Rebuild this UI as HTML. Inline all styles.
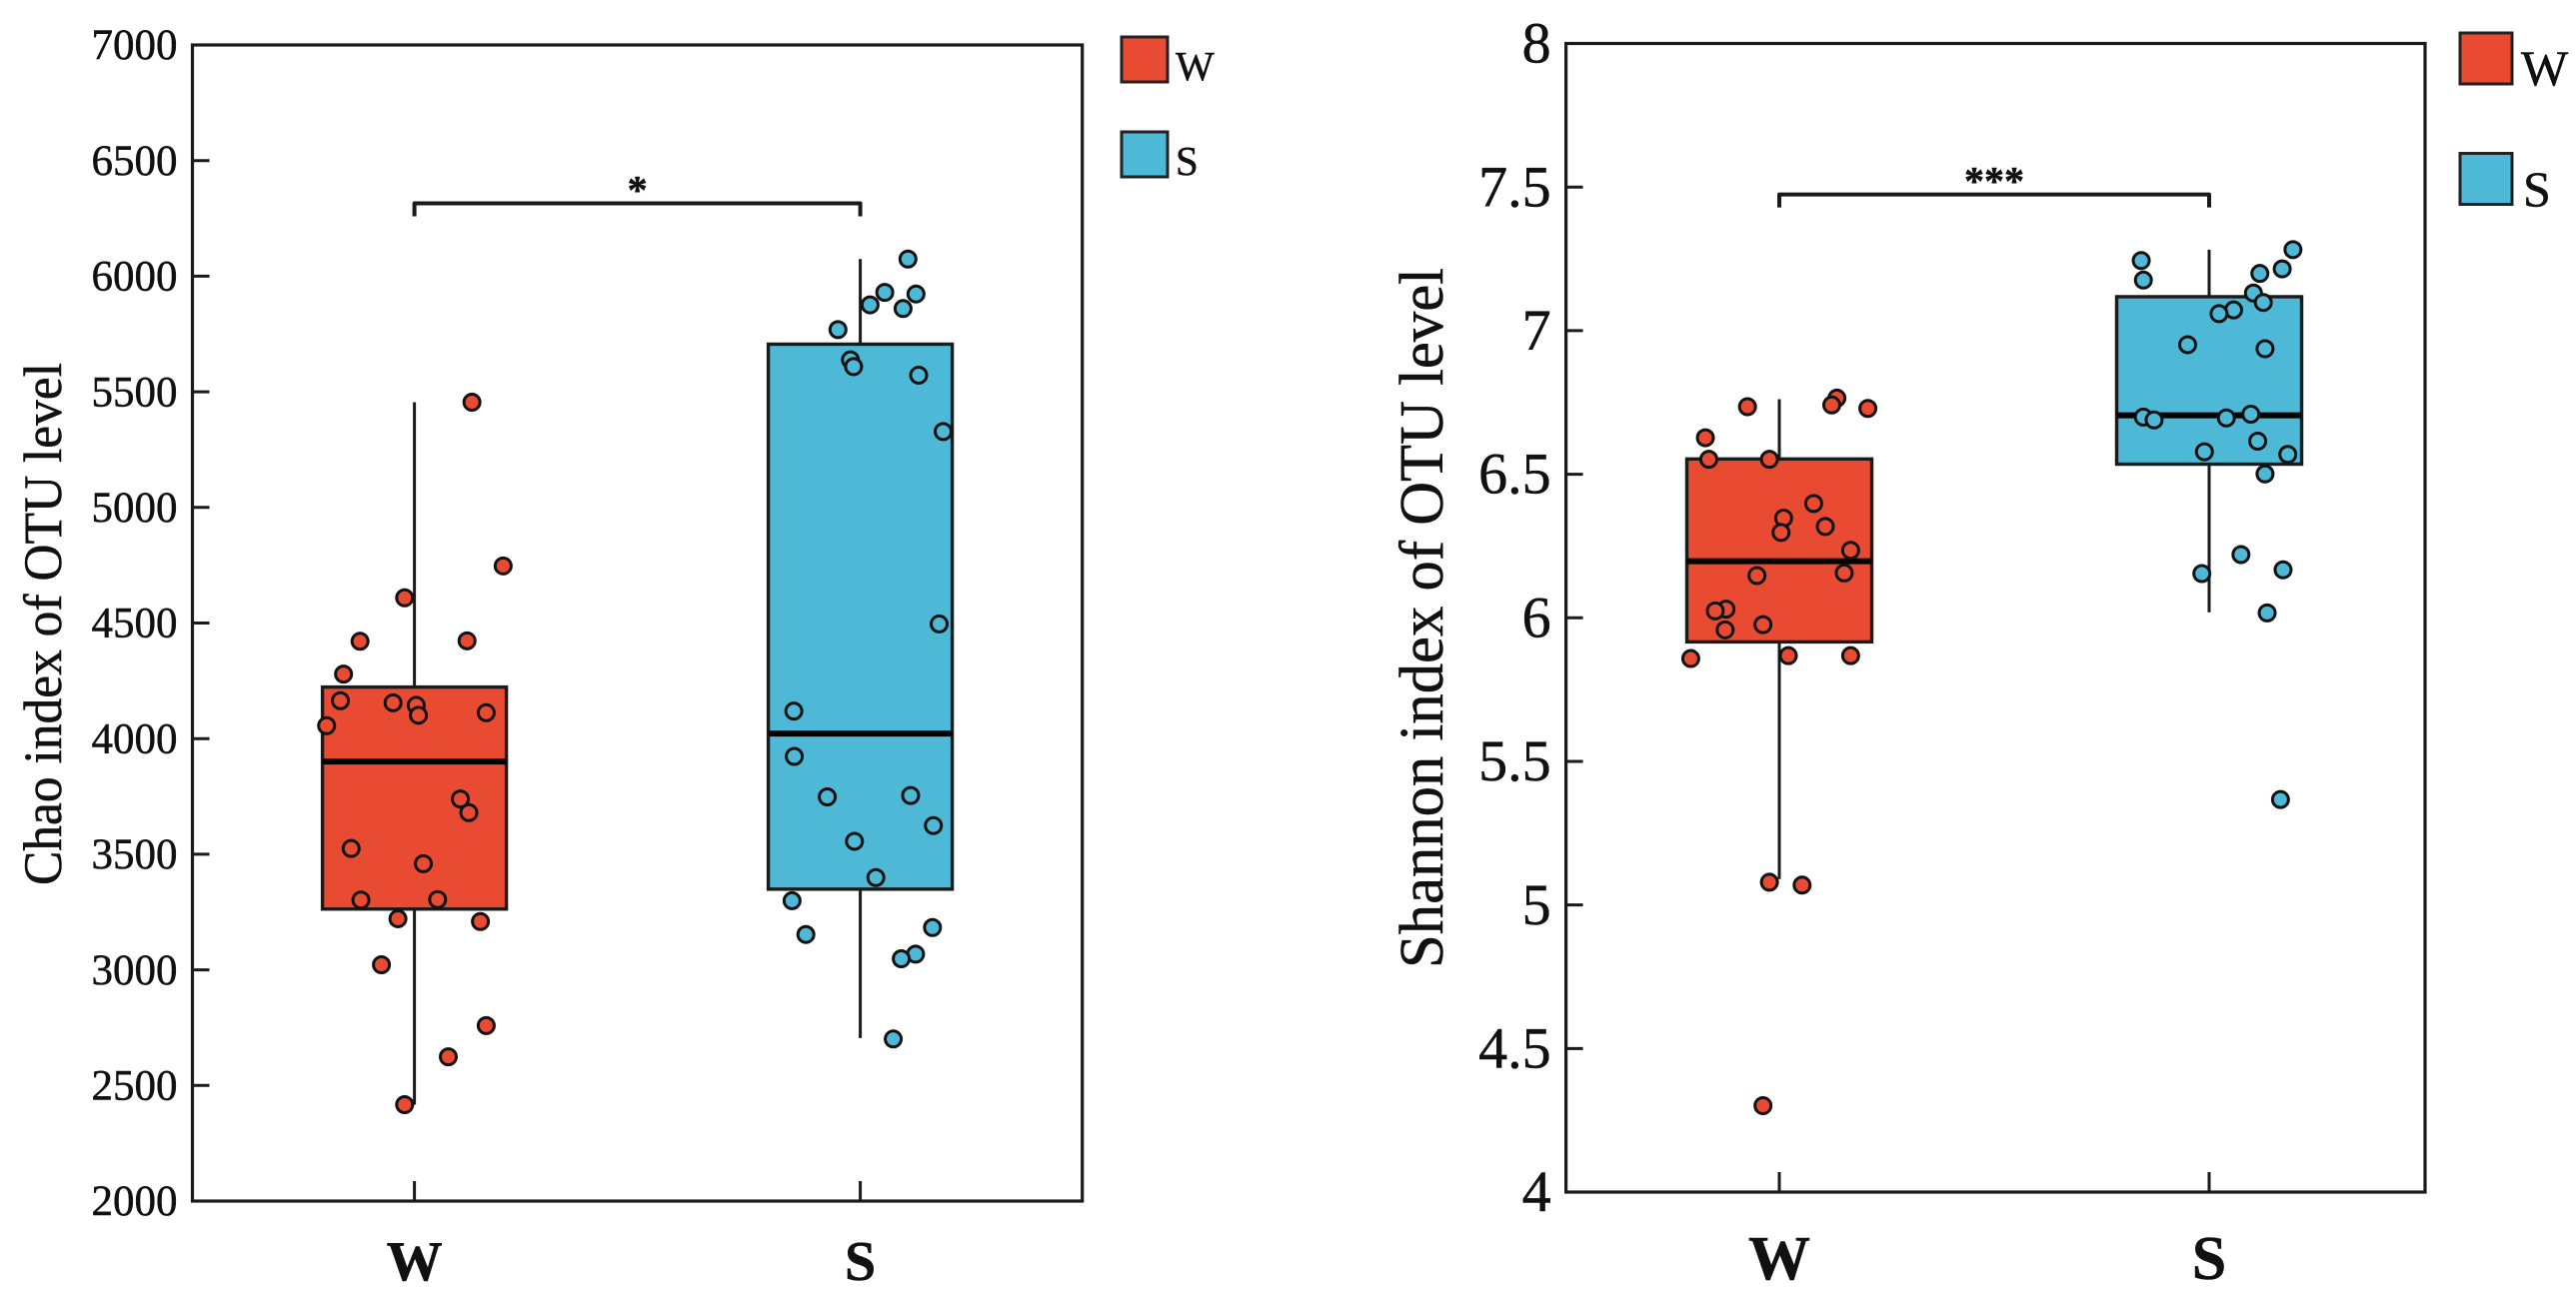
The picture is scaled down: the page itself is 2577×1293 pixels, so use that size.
<!DOCTYPE html>
<html>
<head>
<meta charset="utf-8">
<style>
html,body{margin:0;padding:0;background:#fff;}
svg{display:block;}
text{font-family:"Liberation Serif",serif;fill:#111;stroke:#111;stroke-width:0.5;}
</style>
</head>
<body>
<svg id="figure" xmlns="http://www.w3.org/2000/svg" width="2577" height="1293" viewBox="0 0 2577 1293">
  <rect x="0" y="0" width="2577" height="1293" fill="#fff"/>
  <g id="chao-chart"></g>
  <g id="shannon-chart"></g>
  <text transform="translate(61,886) rotate(-90)" font-size="54" textLength="523" lengthAdjust="spacingAndGlyphs">Chao index of OTU level</text>
  <text transform="translate(1443,969) rotate(-90)" font-size="62" textLength="701" lengthAdjust="spacingAndGlyphs">Shannon index of OTU level</text>
  <rect x="1122" y="37" width="46" height="45" fill="#E84B32" stroke="#222" stroke-width="3"/>
  <text x="1176" y="80" font-size="41">W</text>
  <rect x="1122" y="132" width="46" height="45" fill="#4DB9D6" stroke="#222" stroke-width="3"/>
  <text x="1176" y="175" font-size="41">S</text>
  <rect x="2461" y="33" width="52" height="51" fill="#E84B32" stroke="#222" stroke-width="3"/>
  <text x="2522" y="85" font-size="50">W</text>
  <rect x="2461" y="153.5" width="52" height="51" fill="#4DB9D6" stroke="#222" stroke-width="3"/>
  <text x="2524" y="206" font-size="50">S</text>
</svg>
<script>
const categories = ['W', 'S'];
const chaoTicks = [2000, 2500, 3000, 3500, 4000, 4500, 5000, 5500, 6000, 6500, 7000];
const shannonTicks = [4, 4.5, 5, 5.5, 6, 6.5, 7, 7.5, 8];

const chaoWValues = [5455, 4747, 4609, 4421, 4423, 4279, 4164, 4155, 4144, 4101, 4112, 4056, 3739, 3680, 3525, 3459, 3302, 3304, 3221, 3209, 3022, 2759, 2624, 2417];
const chaoWJitter = [.129, .199, -.022, -.122, .118, -.159, -.166, -.048, .004, .009, .161, -.197, .103, .122, -.142, .020, -.120, .052, -.037, .148, -.074, .161, .076, -.022];
const chaoSValues = [6074, 5930, 5923, 5876, 5860, 5769, 5638, 5609, 5572, 5328, 4496, 4119, 3923, 3748, 3754, 3624, 3556, 3399, 3299, 3183, 3153, 3068, 3048, 2701];
const chaoSJitter = [.107, .055, .125, .022, .096, -.050, -.022, -.015, .131, .186, .177, -.149, -.148, -.074, .113, .164, -.013, .035, -.153, .162, -.122, .124, .092, .074];
const chaoWBox = [2417, 3263, 3901, 4223, 5455];
const chaoSBox = [2705, 3349, 4022, 5706, 6074];
const chaoBracketValue = 6315;

const shannonWValues = [6.735, 6.765, 6.741, 6.729, 6.627, 6.552, 6.552, 6.398, 6.347, 6.297, 6.318, 6.235, 6.156, 6.147, 6.030, 6.024, 5.958, 5.976, 5.858, 5.868, 5.868, 5.079, 5.069, 4.301];
const shannonWJitter = [-.074, .134, .122, .206, -.172, -.164, -.023, .080, .010, .004, .107, .166, .151, -.052, -.124, -.149, -.126, -.038, -.206, .021, .166, -.023, .053, -.038];
const shannonSValues = [7.282, 7.244, 7.176, 7.215, 7.199, 7.131, 7.098, 7.072, 7.059, 6.951, 6.937, 6.699, 6.689, 6.696, 6.709, 6.615, 6.578, 6.569, 6.501, 6.220, 6.154, 6.167, 6.017, 5.367];
const shannonSJitter = [.195, -.158, -.153, .170, .118, .103, .126, .057, .023, -.050, .130, -.153, -.128, .040, .097, .113, -.011, .183, .130, .074, -.017, .172, .135, .166];
const shannonWBox = [5.09, 5.916, 6.197, 6.553, 6.761];
const shannonSBox = [6.019, 6.535, 6.705, 7.118, 7.282];
const shannonBracketValue = 7.474;

const NS = 'http://www.w3.org/2000/svg';
const INK = '#1a1a1a';
const RED = '#E84B32';
const BLUE = '#4DB9D6';

function make(tag, parent, attrs, txt) {
  const el = document.createElementNS(NS, tag);
  for (const k in attrs) el.setAttribute(k, attrs[k]);
  if (txt !== undefined) el.textContent = txt;
  parent.appendChild(el);
  return el;
}

function drawChart(root, opts, ticks, series, bracketValue, stars) {
  const yMin = ticks[0], yMax = ticks[ticks.length - 1];
  const y = v => opts.bottom - (v - yMin) / (yMax - yMin) * (opts.bottom - opts.top);
  const band = opts.x1 - opts.x0;
  const x = i => opts.x0 + i * band;

  const frame = make('rect', root, {x: opts.left, y: opts.top, width: opts.right - opts.left, height: opts.bottom - opts.top, fill: 'none', stroke: INK, 'stroke-width': 3.2});
  
  

  ticks.forEach(t => {
    const tick = make('line', root, {x1: opts.left, x2: opts.left + 17, y1: y(t), y2: y(t), stroke: INK, 'stroke-width': 3});
    
    
    const label = make('text', root, {x: opts.left - 15, y: y(t) + opts.tickFont * 0.33, 'text-anchor': 'end', 'font-size': opts.tickFont}, String(t));
    
    
  });

  categories.forEach((c, i) => {
    const tick = make('line', root, {x1: x(i), x2: x(i), y1: opts.bottom, y2: opts.bottom - 20, stroke: INK, 'stroke-width': 3});
    
    
    const label = make('text', root, {x: x(i), y: opts.xLabelY, 'text-anchor': 'middle', 'font-size': opts.xFont, 'font-weight': 'bold'}, c);
    
    
  });

  series.forEach((s, i) => {
    const cx = x(i);
    const hw = opts.boxWidth / 2;
    const whisker = make('line', root, {x1: cx, x2: cx, y1: y(s.box[0]), y2: y(s.box[4]), stroke: INK, 'stroke-width': 3});
    
    
    const box = make('rect', root, {x: cx - hw, y: y(s.box[3]), width: opts.boxWidth, height: y(s.box[1]) - y(s.box[3]), fill: s.color, stroke: INK, 'stroke-width': 3.4});
    
    
    const median = make('line', root, {x1: cx - hw, x2: cx + hw, y1: y(s.box[2]), y2: y(s.box[2]), stroke: '#000', 'stroke-width': 6});
    
    
    s.values.forEach((v, j) => {
      const dot = make('circle', root, {cx: cx + s.jitter[j] * band, cy: y(v), r: 8, fill: s.color, stroke: '#111', 'stroke-width': 3});
      
      
    });
  });

  const by = y(bracketValue);
  const bracket = make('path', root, {d: 'M' + x(0) + ' ' + (by + 13) + 'V' + by + 'H' + x(1) + 'V' + (by + 13), fill: 'none', stroke: INK, 'stroke-width': 4, 'stroke-linejoin': 'round'});
  
  
  const sig = make('text', root, {x: (x(0) + x(1)) / 2, y: by + opts.starDy, 'text-anchor': 'middle', 'font-size': opts.starFont, 'font-weight': 'bold'}, stars);
  
  
}

drawChart(document.getElementById('chao-chart'),
  {left: 192.5, right: 1082.7, top: 45, bottom: 1202, x0: 414.6, x1: 860.6, boxWidth: 184, tickFont: 43, xFont: 56, xLabelY: 1281, starFont: 40, starDy: 0},
  chaoTicks,
  [{values: chaoWValues, jitter: chaoWJitter, box: chaoWBox, color: RED},
   {values: chaoSValues, jitter: chaoSJitter, box: chaoSBox, color: BLUE}],
  chaoBracketValue, '*');

drawChart(document.getElementById('shannon-chart'),
  {left: 1566.6, right: 2426, top: 43.5, bottom: 1193, x0: 1780, x1: 2210, boxWidth: 185, tickFont: 58, xFont: 62, xLabelY: 1280, starFont: 40, starDy: 0},
  shannonTicks,
  [{values: shannonWValues, jitter: shannonWJitter, box: shannonWBox, color: RED},
   {values: shannonSValues, jitter: shannonSJitter, box: shannonSBox, color: BLUE}],
  shannonBracketValue, '***');
</script>
</body>
</html>
